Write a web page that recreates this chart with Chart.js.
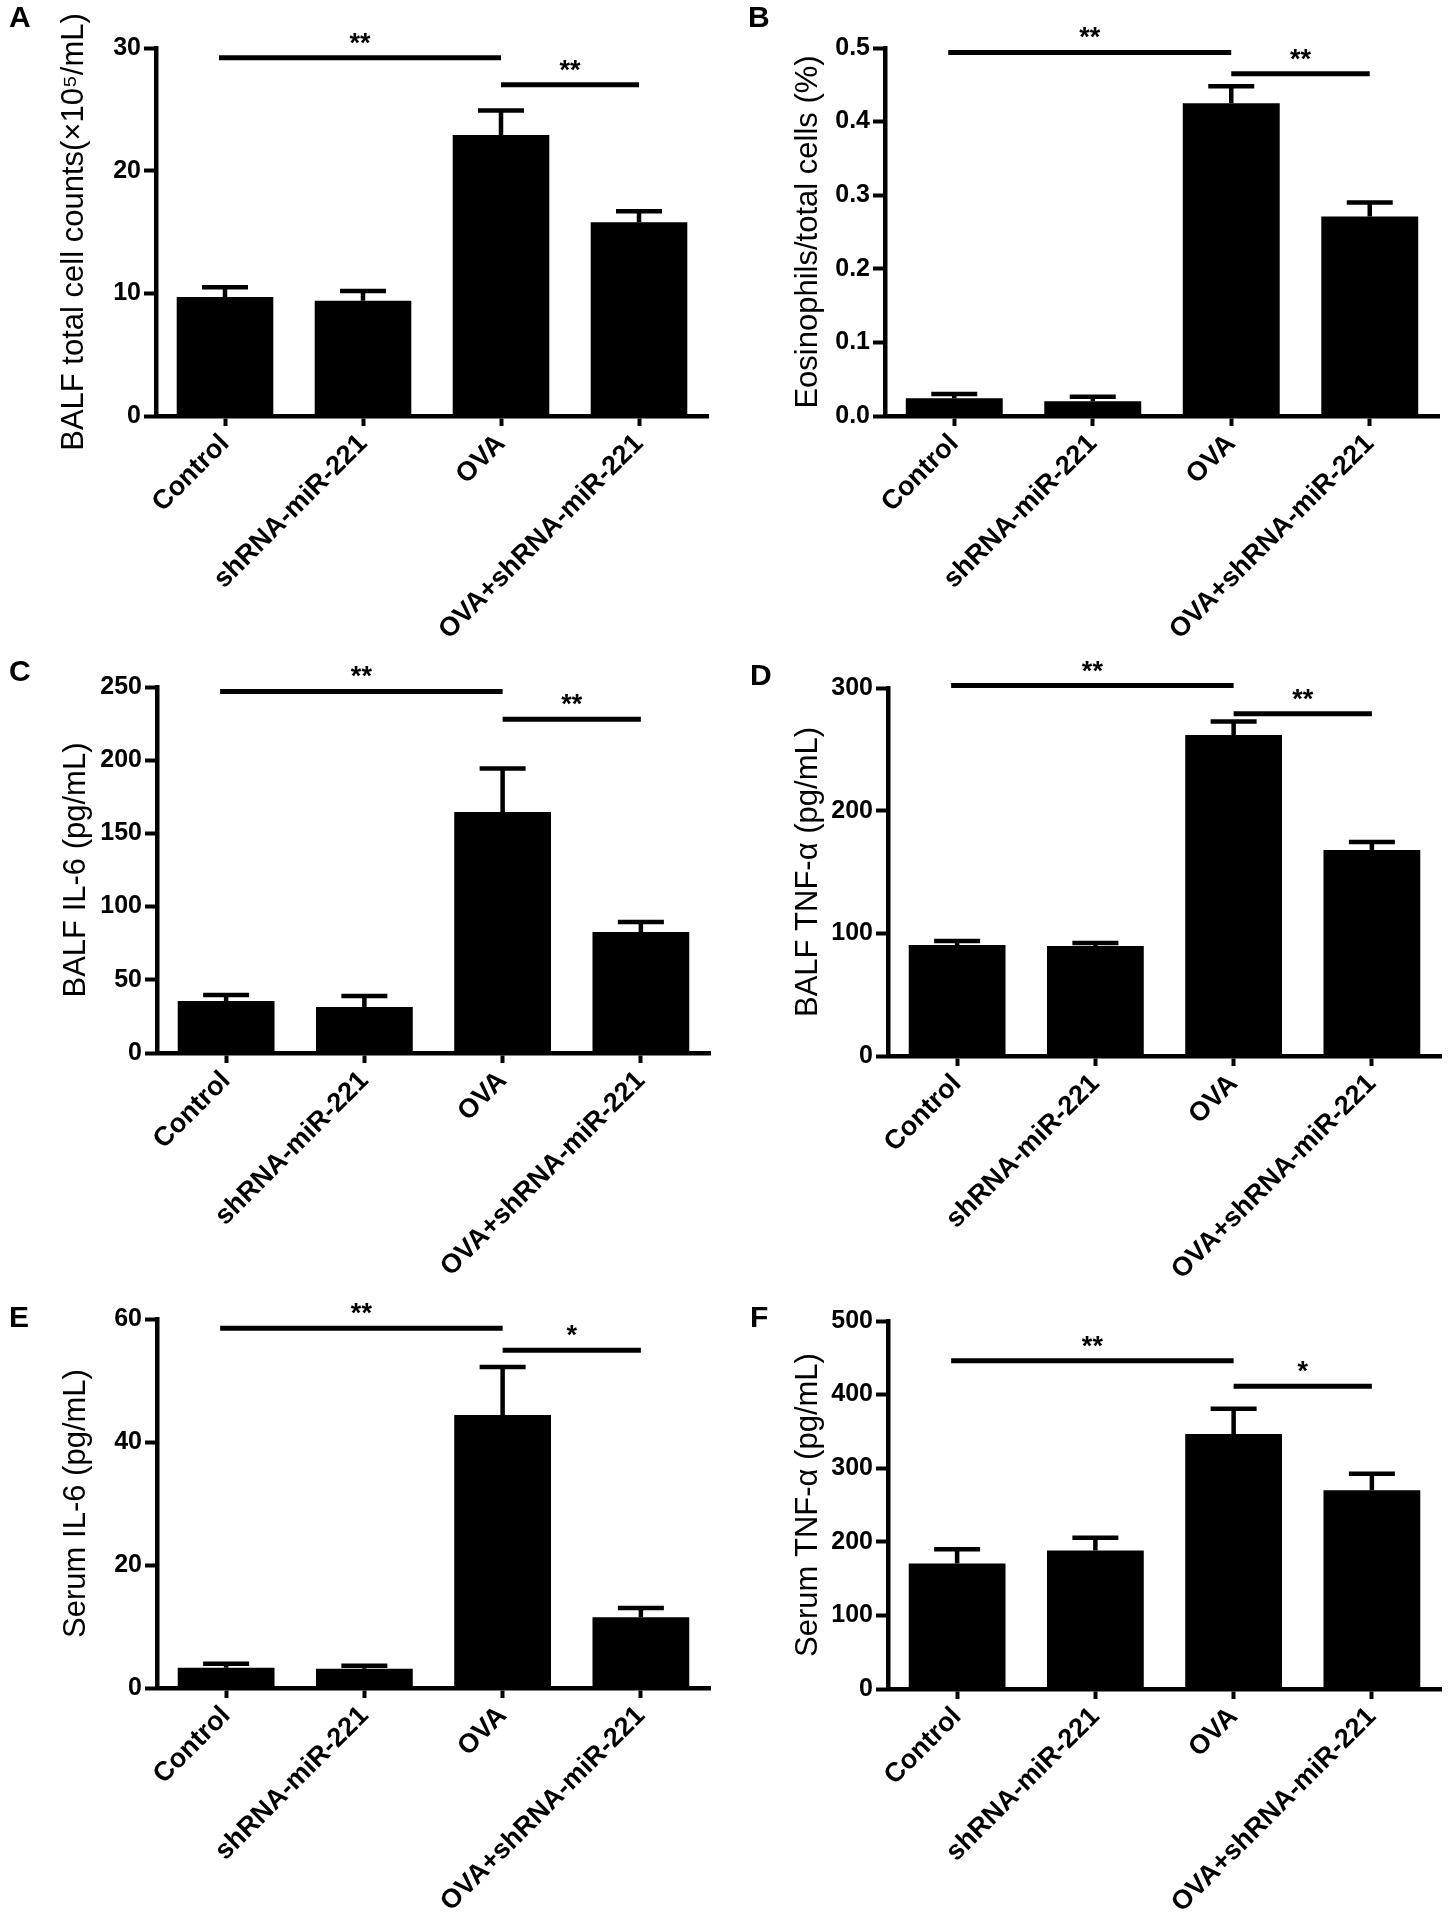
<!DOCTYPE html>
<html lang="en">
<head>
<meta charset="UTF-8">
<title>BALF and serum markers</title>
<script src="https://cdn.jsdelivr.net/npm/chart.js@4.4.1/dist/chart.umd.min.js"></script>
<style>
  body { margin: 0; background: #fff; }
  .sheet { position: relative; width: 1450px; height: 1920px; }
  .sheet canvas { position: absolute; }
</style>
</head>
<body>
<div class="sheet">
  <canvas id="cA" width="725" height="640" style="left:0;top:0"></canvas>
  <canvas id="cB" width="725" height="640" style="left:725px;top:0"></canvas>
  <canvas id="cC" width="725" height="640" style="left:0;top:640px"></canvas>
  <canvas id="cD" width="725" height="640" style="left:725px;top:640px"></canvas>
  <canvas id="cE" width="725" height="640" style="left:0;top:1280px"></canvas>
  <canvas id="cF" width="725" height="640" style="left:725px;top:1280px"></canvas>
</div>

<script>
// groups on the x axis (same for every panel)
const groups = ['Control', 'shRNA-miR-221', 'OVA', 'OVA+shRNA-miR-221'];

// A - BALF total cell counts
const cellMean = [9.7, 9.4, 22.9, 15.8];
const cellSem = [0.8, 0.8, 2.0, 0.9];
const cellTicks = [0, 10, 20, 30];
const cellSig = [29.2, 27.0];
const cellStars = ['**', '**'];

// B - eosinophils / total cells
const eosMean = [0.024, 0.020, 0.425, 0.271];
const eosSem = [0.006, 0.006, 0.023, 0.019];
const eosTicks = [0, 0.1, 0.2, 0.3, 0.4, 0.5];
const eosSig = [0.494, 0.465];
const eosStars = ['**', '**'];

// C - BALF IL-6
const balfIl6Mean = [35.5, 31.4, 164.6, 82.7];
const balfIl6Sem = [4.1, 7.5, 29.7, 6.8];
const balfIl6Ticks = [0, 50, 100, 150, 200, 250];
const balfIl6Sig = [247, 228];
const balfIl6Stars = ['**', '**'];

// D - BALF TNF-a
const balfTnfMean = [90.5, 89.7, 261.7, 167.9];
const balfTnfSem = [3.2, 2.4, 10.9, 6.6];
const balfTnfTicks = [0, 100, 200, 300];
const balfTnfSig = [302, 279];
const balfTnfStars = ['**', '**'];

// E - serum IL-6
const serIl6Mean = [3.3, 3.15, 44.4, 11.5];
const serIl6Sem = [0.65, 0.45, 7.8, 1.5];
const serIl6Ticks = [0, 20, 40, 60];
const serIl6Sig = [58.5, 54.9];
const serIl6Stars = ['**', '*'];

// F - serum TNF-a
const serTnfMean = [170.5, 188.3, 346.6, 270.2];
const serTnfSem = [19.4, 17.1, 34.3, 22.1];
const serTnfTicks = [0, 100, 200, 300, 400, 500];
const serTnfSig = [446, 411.5];
const serTnfStars = ['**', '*'];

const FONT = "'Liberation Sans', Arial, sans-serif";

// where each plot area sits inside its 725x640 canvas
const panels = [
  { id: 'cA', letter: 'A', title: 'BALF total cell counts(×10⁵/mL)', mean: cellMean, sem: cellSem, ticks: cellTicks, sig: cellSig, stars: cellStars, dec: 0,
    left: 156, right: 708, top: 48, bottom: 416, titleX: 74, letterX: 9, letterY: 27 },
  { id: 'cB', letter: 'B', title: 'Eosinophils/total cells (%)', mean: eosMean, sem: eosSem, ticks: eosTicks, sig: eosSig, stars: eosStars, dec: 1,
    left: 160, right: 714, top: 48, bottom: 416, titleX: 83, letterX: 23, letterY: 27 },
  { id: 'cC', letter: 'C', title: 'BALF IL-6 (pg/mL)', mean: balfIl6Mean, sem: balfIl6Sem, ticks: balfIl6Ticks, sig: balfIl6Sig, stars: balfIl6Stars, dec: 0,
    left: 157, right: 710, top: 47, bottom: 413, titleX: 76, letterX: 9, letterY: 41 },
  { id: 'cD', letter: 'D', title: 'BALF TNF-α (pg/mL)', mean: balfTnfMean, sem: balfTnfSem, ticks: balfTnfTicks, sig: balfTnfSig, stars: balfTnfStars, dec: 0,
    left: 163, right: 716, top: 48, bottom: 416, titleX: 83, letterX: 25, letterY: 45 },
  { id: 'cE', letter: 'E', title: 'Serum IL-6 (pg/mL)', mean: serIl6Mean, sem: serIl6Sem, ticks: serIl6Ticks, sig: serIl6Sig, stars: serIl6Stars, dec: 0,
    left: 157, right: 710, top: 39, bottom: 408, titleX: 76, letterX: 9, letterY: 47 },
  { id: 'cF', letter: 'F', title: 'Serum TNF-α (pg/mL)', mean: serTnfMean, sem: serTnfSem, ticks: serTnfTicks, sig: serTnfSig, stars: serTnfStars, dec: 0,
    left: 163, right: 716, top: 41, bottom: 409, titleX: 83, letterX: 25, letterY: 47 },
];

// error bars, significance brackets and the panel letter
const makeExtras = p => ({
  id: 'extras' + p.letter,
  afterDraw(chart) {
    const { ctx, scales: { x, y } } = chart;
    ctx.save();
    ctx.strokeStyle = '#000';
    ctx.fillStyle = '#000';
    ctx.lineCap = 'butt';

    // SEM (upper half only)
    ctx.lineWidth = 4.5;
    p.mean.forEach((m, i) => {
      const cx = x.getPixelForValue(i);
      const y0 = y.getPixelForValue(m);
      const y1 = y.getPixelForValue(m + p.sem[i]);
      ctx.beginPath();
      ctx.moveTo(cx, y0);
      ctx.lineTo(cx, y1);
      ctx.moveTo(cx - 23, y1);
      ctx.lineTo(cx + 23, y1);
      ctx.stroke();
    });

    // brackets: Control vs OVA, OVA vs OVA+shRNA
    const spans = [[x.getPixelForValue(0) - 6, x.getPixelForValue(2)],
                   [x.getPixelForValue(2), x.getPixelForValue(3)]];
    ctx.lineWidth = 5;
    ctx.font = 'bold 27px ' + FONT;
    ctx.textAlign = 'center';
    ctx.textBaseline = 'alphabetic';
    spans.forEach(([a, b], k) => {
      const ly = y.getPixelForValue(p.sig[k]);
      ctx.beginPath();
      ctx.moveTo(a, ly);
      ctx.lineTo(b, ly);
      ctx.stroke();
      ctx.fillText(p.stars[k], (a + b) / 2, ly - 6);
    });

    ctx.font = 'bold 30px ' + FONT;
    ctx.textAlign = 'left';
    ctx.fillText(p.letter, p.letterX, p.letterY);
    ctx.restore();
  }
});

panels.forEach(p => {
  const canvas = document.getElementById(p.id);
  new Chart(canvas.getContext('2d'), {
    type: 'bar',
    data: {
      labels: groups,
      datasets: [{
        data: p.mean,
        backgroundColor: '#000',
        borderWidth: 0,
        categoryPercentage: 1,
        barPercentage: 0.7
      }]
    },
    options: {
      responsive: false,
      animation: false,
      layout: { padding: { left: 0, top: p.top, right: canvas.width - p.right, bottom: 0 } },
      plugins: { legend: { display: false }, tooltip: { enabled: false } },
      scales: {
        x: {
          afterFit: s => { s.height = canvas.height - p.bottom; },
          border: { color: '#000', width: 4.5 },
          grid: { offset: false, drawOnChartArea: false, color: '#000', tickLength: 10, tickWidth: 4 },
          ticks: {
            color: '#000', autoSkip: false, minRotation: 45, maxRotation: 45, padding: 2,
            font: { family: FONT, size: 27, weight: 'bold' }
          }
        },
        y: {
          min: p.ticks[0],
          max: p.ticks[p.ticks.length - 1],
          afterBuildTicks: s => { s.ticks = p.ticks.map(v => ({ value: v })); },
          afterFit: s => { s.width = p.left; },
          border: { color: '#000', width: 4.5 },
          grid: { drawOnChartArea: false, color: '#000', tickLength: 12, tickWidth: 4 },
          ticks: {
            color: '#000', padding: 3,
            font: { family: FONT, size: 25, weight: 'bold' },
            callback: v => Number(v).toFixed(p.dec)
          },
          title: {
            display: true, text: p.title, color: '#000',
            font: { family: FONT, size: 31 },
            padding: { top: p.titleX - 18.6, bottom: 0 }
          }
        }
      }
    },
    plugins: [makeExtras(p)]
  });
});
</script>
</body>
</html>
